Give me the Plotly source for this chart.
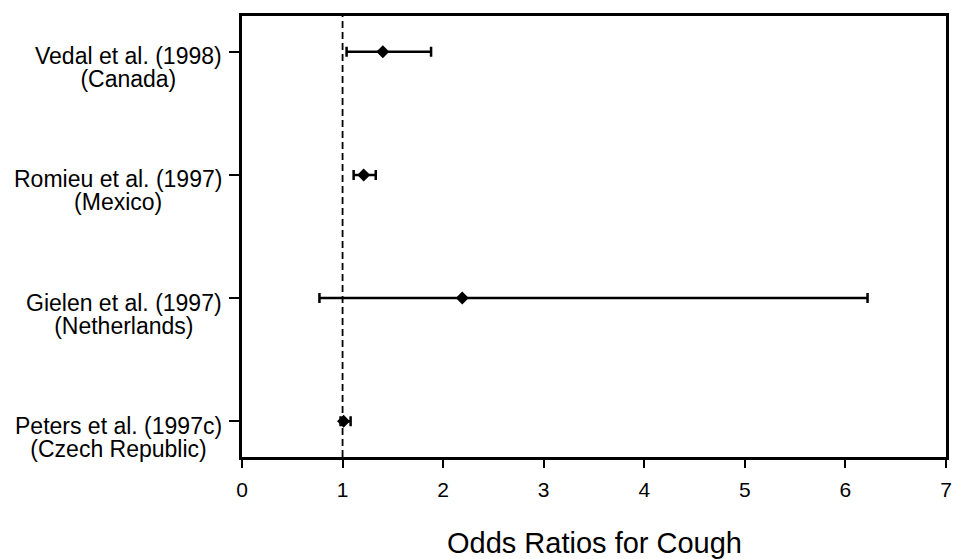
import plotly.graph_objects as go

# Forest plot: odds ratios for cough with confidence intervals
studies = ["Peters et al. (1997c)<br>(Czech Republic)",
           "Gielen et al. (1997)<br>(Netherlands)",
           "Romieu et al. (1997)<br>(Mexico)",
           "Vedal et al. (1998)<br>(Canada)"]
odds_ratio = [1.01, 2.19, 1.21, 1.40]
ci_low = [0.98, 0.77, 1.11, 1.04]
ci_high = [1.08, 6.22, 1.33, 1.88]

rows = list(range(len(studies)))
err_plus = [h - o for h, o in zip(ci_high, odds_ratio)]
err_minus = [o - l for o, l in zip(odds_ratio, ci_low)]

fig = go.Figure()

fig.add_trace(go.Scatter(
    x=odds_ratio, y=rows, mode="markers",
    marker=dict(symbol="diamond", size=10, color="black"),
    error_x=dict(type="data", symmetric=False, array=err_plus, arrayminus=err_minus,
                 color="black", thickness=2.5, width=5),
    showlegend=False,
))

# reference line at OR = 1
fig.add_shape(type="line", x0=1, x1=1, y0=0, y1=1, xref="x", yref="paper",
              line=dict(color="black", width=1.8, dash="7px,4px"))

# y labels as annotations so the second line is centred;
# small base size keeps the line spacing tight
for r, s in zip(rows, studies):
    a, b = s.split("<br>")
    txt = f"<span style='font-size:23px'>{a}</span><br><span style='font-size:23px'>{b}</span>"
    fig.add_annotation(x=0, xref="paper", y=r, yref="y", text=txt, showarrow=False,
                       xanchor="right", yanchor="middle", align="center",
                       xshift=-18, yshift=-16,
                       font=dict(size=18, color="black"))

# axis title
fig.add_annotation(x=0.5, xref="paper", y=-0.195, yref="paper", text="Odds Ratios for Cough",
                   showarrow=False, xanchor="center", yanchor="middle",
                   font=dict(size=29, color="black"))

fig.update_xaxes(range=[0, 7], tickvals=list(range(8)), showline=True, linecolor="black",
                 linewidth=3, mirror=True, ticks="outside", ticklen=8, tickwidth=1.5,
                 tickcolor="black", showgrid=False, zeroline=False, automargin=False,
                 ticklabelstandoff=4,
                 tickfont=dict(size=21, color="black"))
fig.update_yaxes(range=[-0.29, 3.29], tickvals=rows, ticktext=[""] * len(rows),
                 showline=True, linecolor="black", linewidth=3, mirror=True,
                 ticks="outside", ticklen=10, tickwidth=1.5, tickcolor="black",
                 showgrid=False, zeroline=False, automargin=False)

fig.update_layout(
    width=953, height=559,
    margin=dict(l=242, r=7, t=16, b=102),
    plot_bgcolor="white", paper_bgcolor="white",
    font=dict(family="Liberation Sans, Arial, sans-serif", color="black"),
)

fig.write_html("out.html", config={"displayModeBar": False},
               post_script="document.body.style.margin='0';")
